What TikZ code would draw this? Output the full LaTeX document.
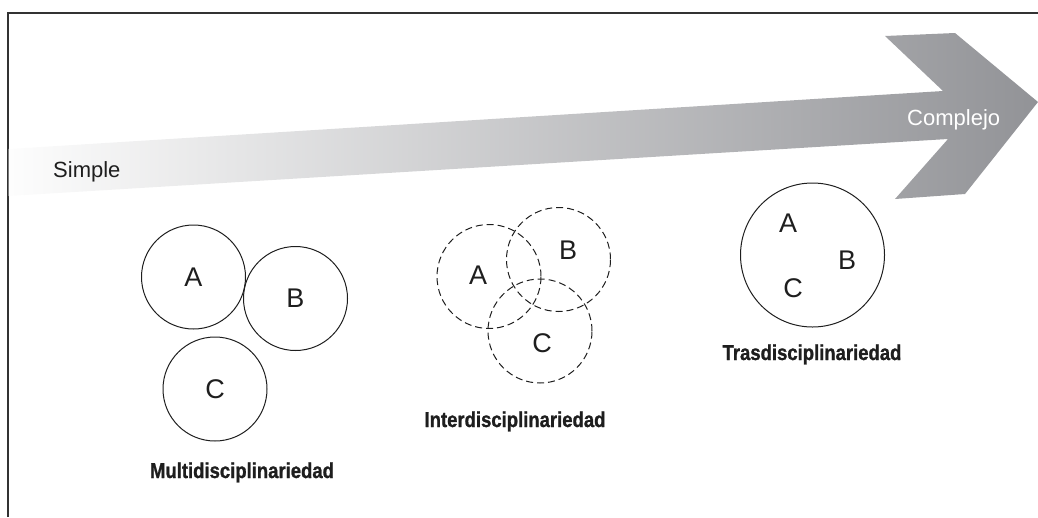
\documentclass[tikz,border=0pt]{standalone}
\usepackage{fontspec}
\setmainfont{Liberation Sans}
\newfontfamily\heavyfont[FakeBold=1.2]{Liberation Sans Bold}
\definecolor{arrowgray}{RGB}{146,147,151}
\definecolor{arrowlight}{RGB}{253,253,253}
\definecolor{framegray}{RGB}{50,50,50}
\definecolor{inkc}{RGB}{30,30,30}
\newcommand{\heavytitle}[1]{\scalebox{0.86}[1]{#1}}
\tikzset{
  disc/.style={circle, draw=inkc, line width=1pt, minimum size=104pt, inner sep=0pt},
  bigdisc/.style={circle, draw=inkc, line width=1pt, minimum size=144pt, inner sep=0pt},
  dashdisc/.style={disc, dash pattern=on 7pt off 4pt},
  letter/.style={text=inkc, font=\fontsize{27}{30}\selectfont, inner sep=0pt},
  title/.style={text=inkc, font=\heavyfont\fontsize{21.5}{24}\selectfont, inner sep=0pt},
  endlabel/.style={font=\fontsize{22}{25}\selectfont, inner sep=0pt}
}
\begin{document}
\begin{tikzpicture}[x=1pt,y=-1pt]
\useasboundingbox (0,0) rectangle (1038,517);
% frame
\draw[line width=2pt, framegray] (7.5,517) -- (7.5,12.5) -- (1038,12.5);
% arrow
\shade[left color=arrowlight, right color=arrowgray]
  (8.5,149) -- (943,91) -- (885,36) -- (955,33) -- (1038,102) -- (965,194)
  -- (895,199) -- (948,139) -- (8.5,196) -- cycle;
\node[endlabel, text=inkc, anchor=base west] (simple) at (53,177) {Simple};
\node[endlabel, text=white, anchor=base west] (complejo) at (907,125) {Complejo};
% multidisciplinariedad
\node[disc] (mA) at (193.5,277) {};
\node[disc] (mB) at (295.5,298.5) {};
\node[disc] (mC) at (215,389) {};
\node[letter] (mAl) at (mA) {A};
\node[letter] (mBl) at (mB) {B};
\node[letter] (mCl) at (mC) {C};
\node[title, anchor=base] (mT) at (242,478) {\heavytitle{Multidisciplinariedad}};
% interdisciplinariedad
\node[dashdisc] (iA) at (489,276.5) {};
\node[dashdisc] (iB) at (558.5,259.5) {};
\node[dashdisc] (iC) at (540,331) {};
\node[letter] (iAl) at (478,275) {A};
\node[letter] (iBl) at (568,250) {B};
\node[letter] (iCl) at (542,343) {C};
\node[title, anchor=base] (iT) at (515,427) {\heavytitle{Interdisciplinariedad}};
% trasdisciplinariedad
\node[bigdisc] (tA) at (812.5,255) {};
\node[letter] (tAl) at (788,223) {A};
\node[letter] (tBl) at (847,260) {B};
\node[letter] (tCl) at (793,288) {C};
\node[title, anchor=base] (tT) at (812,360) {\heavytitle{Trasdisciplinariedad}};
\end{tikzpicture}
\end{document}
